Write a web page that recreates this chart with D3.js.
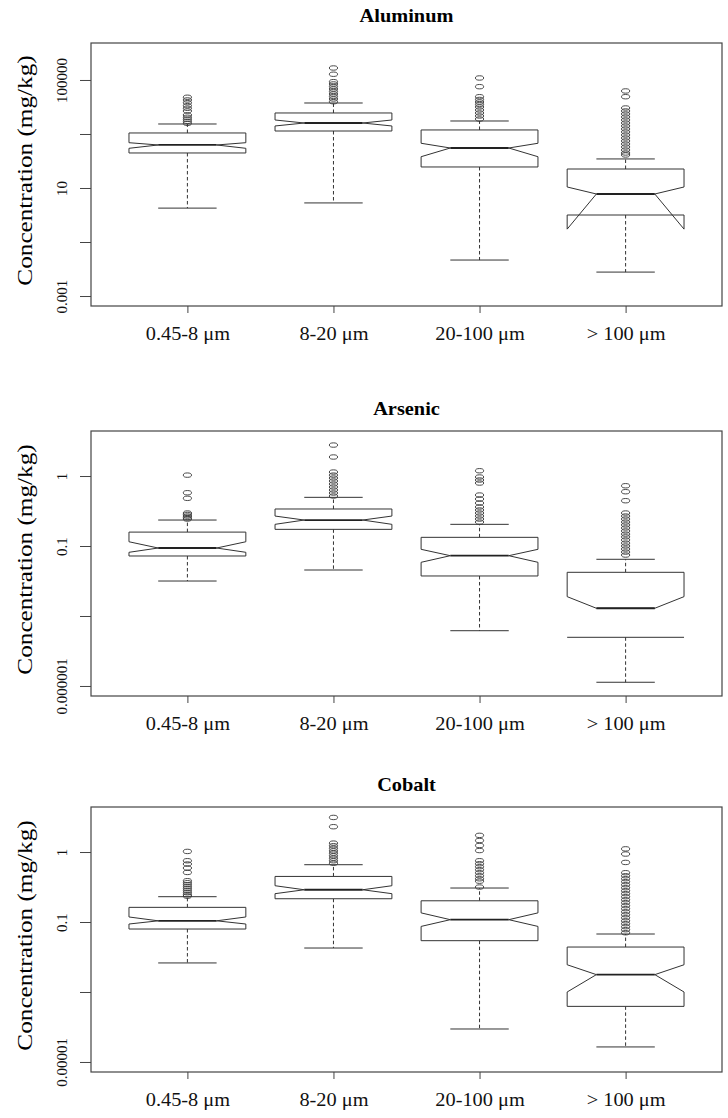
<!DOCTYPE html>
<html>
<head>
<meta charset="utf-8">
<script src="https://cdn.jsdelivr.net/npm/d3@7"></script>
<style>
  body { margin: 0; background: #fff; }
  svg { display: block; font-family: "Liberation Serif", "Times New Roman", serif; }
</style>
</head>
<body>
<script>
// size classes on the x axis
const groups = ["0.45-8 μm", "8-20 μm", "20-100 μm", "> 100 μm"];

// box stats per group: [whisker low, Q1, notch low, median, notch high, Q3, whisker high]
const aluminumStats = [
  [1.8, 198, 295, 392, 476, 1090, 2344],
  [2.8, 1290, 1980, 2550, 3300, 6000, 14060],
  [0.0215, 60, 144, 303, 453, 1410, 3030],
  [0.0077, 1.0, 0.30, 6.0, 10.9, 50.5, 119]
];
const aluminumOutliers = [
  [22900, 18200, 14400, 11200, 8950, 7110, 5060, 4160, 3500, 2950, 2490],
  [278000, 163000, 86500, 71100, 57400, 46400, 37500, 30300, 24500, 19800, 15700],
  [118600, 56500, 24000, 19000, 15300, 12400, 10000, 7740, 6000, 4640, 3590],
  [39200, 24000, 9180, 7110, 5510, 4260, 3300, 2550, 1980, 1530, 1190, 918, 711, 551, 426, 330, 255, 198, 167]
];
const aluminumDomain = [4.27e-4, 2.34e6];
const aluminumTicks = [1e5, 1e3, 10, 0.1, 0.001];
const aluminumTickLabels = ["100000", "", "10", "", "0.001"];

// notch low of the last arsenic box falls below zero, so R leaves it out
const arsenicStats = [
  [0.0316, 0.072, 0.0813, 0.0936, 0.115, 0.158, 0.235],
  [0.0454, 0.173, 0.204, 0.235, 0.268, 0.338, 0.496],
  [0.00616, 0.0373, 0.0585, 0.0727, 0.0897, 0.133, 0.204],
  [0.00113, 0.00496, null, 0.0129, 0.0189, 0.0421, 0.0646]
];
const arsenicOutliers = [
  [1.03, 0.577, 0.48, 0.296, 0.282, 0.268, 0.255, 0.243],
  [2.77, 1.87, 1.14, 1.03, 0.936, 0.849, 0.769, 0.697, 0.631, 0.572, 0.518],
  [1.19, 0.968, 0.877, 0.794, 0.535, 0.469, 0.411, 0.361, 0.327, 0.296, 0.268, 0.243, 0.220],
  [0.726, 0.597, 0.444, 0.296, 0.268, 0.243, 0.220, 0.2, 0.181, 0.164, 0.148, 0.135, 0.122, 0.110, 0.1, 0.0906, 0.082, 0.0743]
];
const arsenicDomain = [7.19e-4, 4.40];
const arsenicTicks = [1, 0.1, 0.01, 0.001];
const arsenicTickLabels = ["1", "0.1", "", "0.000001"];

const cobaltStats = [
  [0.026, 0.0794, 0.0936, 0.104, 0.118, 0.162, 0.230],
  [0.0425, 0.215, 0.254, 0.289, 0.330, 0.448, 0.659],
  [0.00296, 0.0541, 0.0865, 0.108, 0.135, 0.201, 0.306],
  [0.00164, 0.00623, 0.01, 0.0177, 0.0245, 0.0439, 0.0674]
];
const cobaltOutliers = [
  [1.02, 0.751, 0.674, 0.591, 0.511, 0.389, 0.364, 0.341, 0.319, 0.299, 0.280, 0.262, 0.245, 0.234],
  [3.12, 2.30, 1.34, 1.23, 1.13, 1.04, 0.962, 0.885, 0.815, 0.751, 0.692],
  [1.73, 1.46, 1.24, 1.05, 0.751, 0.680, 0.617, 0.559, 0.506, 0.458, 0.415, 0.383, 0.316],
  [1.11, 0.936, 0.710, 0.506, 0.458, 0.416, 0.377, 0.341, 0.309, 0.280, 0.254, 0.230, 0.208, 0.189, 0.171, 0.155, 0.140, 0.127, 0.115, 0.104, 0.0946, 0.0857, 0.0777, 0.0703]
];
const cobaltDomain = [7.19e-4, 4.40];
const cobaltTicks = [1, 0.1, 0.01, 0.001];
const cobaltTickLabels = ["1", "0.1", "", "0.00001"];

const panels = [
  { title: "Aluminum", stats: aluminumStats, out: aluminumOutliers, domain: aluminumDomain, ticks: aluminumTicks, labels: aluminumTickLabels },
  { title: "Arsenic", stats: arsenicStats, out: arsenicOutliers, domain: arsenicDomain, ticks: arsenicTicks, labels: arsenicTickLabels },
  { title: "Cobalt", stats: cobaltStats, out: cobaltOutliers, domain: cobaltDomain, ticks: cobaltTicks, labels: cobaltTickLabels }
];

// layout (pixels)
const W = 728, H = 1118;
const left = 91, right = 722;
const tops = [43, 431, 807], bottoms = [306, 696, 1072], titleY = [22, 415, 791];
const ink = "#333";

const svg = d3.select("body").append("svg")
    .attr("width", W)
    .attr("height", H);

// R style x range: 0.5..4.5 padded by 4%
const x = d3.scaleLinear().domain([0.34, 4.66]).range([left, right]);
const halfW = (x(1.4) - x(0.6)) / 2;

function stretch(sel, k) {
    sel.each(function() {
        const len = this.getComputedTextLength();
        d3.select(this).attr("textLength", len * k).attr("lengthAdjust", "spacingAndGlyphs");
    });
}

panels.forEach((p, pi) => {
    const top = tops[pi], bottom = bottoms[pi];
    const y = d3.scaleLog().domain(p.domain).range([bottom, top]);
    const g = svg.append("g");

    // title
    g.append("text")
        .attr("x", (left + right) / 2)
        .attr("y", titleY[pi])
        .attr("text-anchor", "middle")
        .attr("font-weight", "bold")
        .attr("font-size", 19)
        .text(p.title)
        .call(stretch, 1.07);

    // y axis title
    g.append("text")
        .attr("transform", "translate(32," + ((top + bottom) / 2 - 4) + ") rotate(-90)")
        .attr("text-anchor", "middle")
        .attr("font-size", 21)
        .text("Concentration (mg/kg)")
        .call(stretch, 1.2);

    // y axis
    const yAxis = g.append("g")
        .attr("transform", "translate(" + left + ",0)")
        .call(d3.axisLeft(y)
            .tickValues(p.ticks)
            .tickFormat((d, i) => p.labels[i])
            .tickSize(11));
    yAxis.select(".domain").remove();
    yAxis.selectAll("line").attr("stroke", "#444");
    yAxis.selectAll("text")
        .attr("transform", "rotate(-90)")
        .attr("x", 0)
        .attr("y", -24)
        .attr("dy", 0)
        .attr("text-anchor", "middle")
        .attr("font-family", "Liberation Serif, Times New Roman, serif")
        .attr("font-size", 15)
        .attr("fill", "#111");

    // x axis
    const xAxis = g.append("g")
        .attr("transform", "translate(0," + bottom + ")")
        .call(d3.axisBottom(x)
            .tickValues([1, 2, 3, 4])
            .tickFormat(d => groups[d - 1])
            .tickSize(7)
            .tickPadding(14));
    xAxis.select(".domain").remove();
    xAxis.selectAll("line").attr("stroke", "#444");
    xAxis.selectAll("text")
        .attr("font-family", "Liberation Serif, Times New Roman, serif")
        .attr("font-size", 18)
        .attr("fill", "#111")
        .call(stretch, 1.13);

    // boxes
    p.stats.forEach((s, i) => {
        const [lo, q1, nl, med, nu, q3, hi] = s;
        const xc = x(i + 1), xl = xc - halfW, xr = xc + halfW;
        const xil = xc - halfW / 2, xir = xc + halfW / 2;

        let d;
        if (nl != null) {
            d = "M" + xl + "," + y(q3) + "L" + xl + "," + y(nu) + "L" + xil + "," + y(med) +
                "L" + xl + "," + y(nl) + "L" + xl + "," + y(q1) + "L" + xr + "," + y(q1) +
                "L" + xr + "," + y(nl) + "L" + xir + "," + y(med) + "L" + xr + "," + y(nu) +
                "L" + xr + "," + y(q3) + "Z";
        } else {
            d = "M" + xil + "," + y(med) + "L" + xl + "," + y(nu) + "L" + xl + "," + y(q3) +
                "L" + xr + "," + y(q3) + "L" + xr + "," + y(nu) + "L" + xir + "," + y(med) + "Z" +
                "M" + xl + "," + y(q1) + "L" + xr + "," + y(q1);
        }

        // whiskers
        g.append("line")
            .attr("x1", xc).attr("x2", xc)
            .attr("y1", y(q3)).attr("y2", y(hi))
            .attr("stroke", ink).attr("stroke-dasharray", "3.5,2.5");
        g.append("line")
            .attr("x1", xc).attr("x2", xc)
            .attr("y1", y(q1)).attr("y2", y(lo))
            .attr("stroke", ink).attr("stroke-dasharray", "3.5,2.5");
        [lo, hi].forEach(v => {
            g.append("line")
                .attr("x1", xc - halfW / 2).attr("x2", xc + halfW / 2)
                .attr("y1", y(v)).attr("y2", y(v))
                .attr("stroke", ink);
        });

        g.append("path")
            .attr("d", d)
            .attr("fill", "#fff")
            .attr("stroke", ink)
            .attr("stroke-width", 1);

        g.append("line")
            .attr("x1", xil).attr("x2", xir)
            .attr("y1", y(med)).attr("y2", y(med))
            .attr("stroke", "#222")
            .attr("stroke-width", 1.8);

        // outliers
        g.selectAll(null)
            .data(p.out[i])
            .enter().append("ellipse")
            .attr("cx", xc)
            .attr("cy", d => y(d))
            .attr("rx", 4.1)
            .attr("ry", 2.2)
            .attr("fill", "none")
            .attr("stroke", ink)
            .attr("stroke-width", 0.9);
    });

    // frame
    g.append("rect")
        .attr("x", left).attr("y", top)
        .attr("width", right - left).attr("height", bottom - top)
        .attr("fill", "none")
        .attr("stroke", "#444")
        .attr("stroke-width", 1.2);
});
</script>
</body>
</html>
